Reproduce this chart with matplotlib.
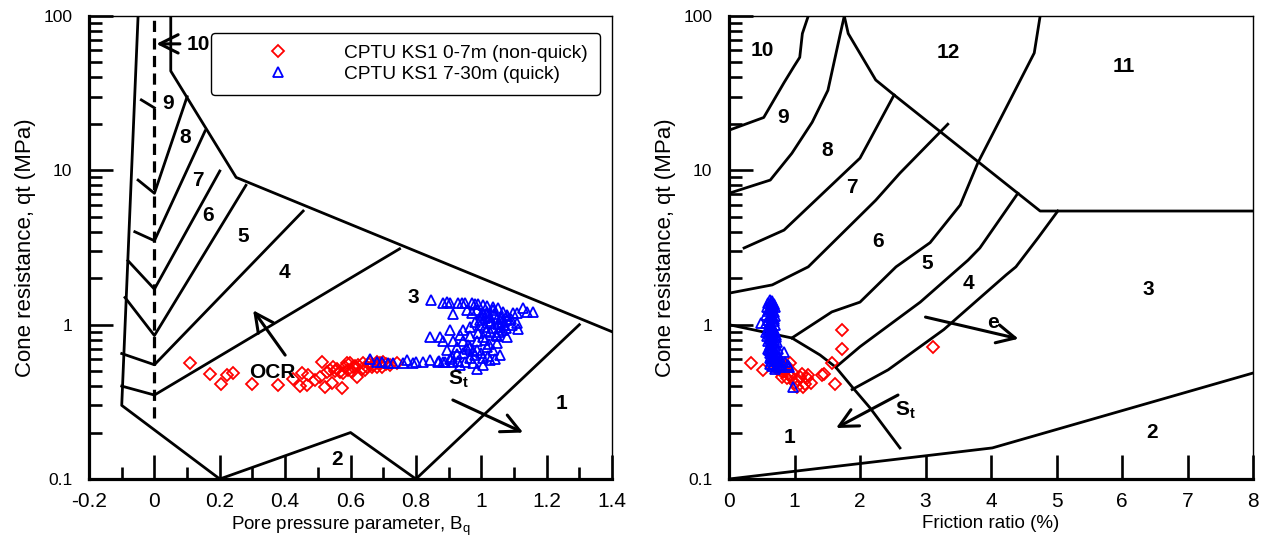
import matplotlib.pyplot as plt
from matplotlib.ticker import LogLocator, NullFormatter

plt.rcParams['font.family'] = ['Liberation Sans', 'DejaVu Sans']
plt.rcParams['mathtext.fontset'] = 'custom'
plt.rcParams['mathtext.rm'] = 'Liberation Sans'
plt.rcParams['mathtext.it'] = 'Liberation Sans:italic'
plt.rcParams['mathtext.bf'] = 'Liberation Sans:bold'

# ---- CPTU KS1 data ----
# Bq chart, 0-7 m (non-quick)
bq_nonquick = [0.109, 0.170, 0.204, 0.222, 0.241, 0.298, 0.378, 0.424, 0.445, 0.451,
               0.470, 0.467, 0.491, 0.507, 0.513, 0.522, 0.543, 0.574, 0.537, 0.546,
               0.559, 0.568, 0.583, 0.592, 0.598, 0.608, 0.620, 0.623, 0.635, 0.638,
               0.650, 0.660, 0.669, 0.681, 0.690, 0.699, 0.742, 0.528, 0.577, 0.604,
               0.644, 0.666, 0.589, 0.681, 0.696, 0.552, 0.615, 0.655, 0.708, 0.720]
qt_bq_nonquick = [0.565, 0.479, 0.412, 0.472, 0.487, 0.412, 0.406, 0.445, 0.401, 0.487,
                  0.472, 0.406, 0.438, 0.458, 0.572, 0.395, 0.419, 0.389, 0.510, 0.535,
                  0.520, 0.495, 0.530, 0.510, 0.565, 0.530, 0.458, 0.548, 0.520, 0.565,
                  0.535, 0.572, 0.548, 0.572, 0.565, 0.572, 0.565, 0.495, 0.487, 0.495,
                  0.510, 0.530, 0.565, 0.535, 0.535, 0.500, 0.540, 0.555, 0.560, 0.550]

# Bq chart, 7-30 m (quick)
bq_quick = [0.846, 0.883, 0.895, 0.904, 0.929, 0.941, 0.950, 0.972, 0.981, 0.990,
            1.005, 1.017, 1.036, 1.051, 1.066, 1.109, 1.158, 0.913, 0.972, 1.005,
            0.843, 0.874, 0.883, 0.904, 0.935, 0.944, 0.965, 0.981, 0.996, 1.011,
            1.027, 1.048, 1.063, 1.079, 1.094, 1.109, 1.112, 1.066, 1.027, 1.005,
            0.987, 0.965, 0.944, 0.926, 0.895, 0.904, 0.987, 1.005, 1.036, 1.042,
            0.987, 0.950, 0.935, 0.913, 0.883, 0.868, 0.843, 0.822, 0.791, 0.773,
            0.761, 0.730, 0.715, 0.696, 0.660, 0.681, 0.944, 0.965, 1.048, 1.079,
            1.097, 1.128, 1.140, 1.017, 1.036, 0.987, 0.957, 1.027, 1.057, 1.048,
            1.017, 0.965, 0.975, 1.005, 1.027, 1.057, 0.913, 0.926, 1.079, 1.063,
            1.000, 1.020, 1.040, 1.060, 1.080, 1.030, 1.050, 1.070, 1.010, 0.995,
            1.015, 1.035, 1.055, 1.075, 1.090, 0.990, 1.010, 1.045, 1.025, 0.975,
            0.960, 1.000, 1.020, 0.980, 0.955, 0.930, 0.910, 0.890, 0.870, 0.800]
qt_bq_quick = [1.44, 1.38, 1.40, 1.38, 1.38, 1.38, 1.38, 1.38, 1.36, 1.36,
               1.34, 1.32, 1.30, 1.28, 1.21, 1.19, 1.21, 1.17, 1.19, 1.19,
               0.83, 0.83, 0.78, 0.93, 0.86, 0.93, 0.97, 1.04, 1.07, 1.10,
               1.12, 1.09, 1.04, 1.07, 1.00, 1.02, 0.94, 0.93, 0.89, 0.83,
               0.78, 0.72, 0.66, 0.65, 0.69, 0.60, 0.69, 0.61, 0.69, 0.60,
               0.52, 0.57, 0.55, 0.57, 0.57, 0.57, 0.59, 0.57, 0.565, 0.59,
               0.565, 0.565, 0.565, 0.572, 0.60, 0.572, 0.78, 0.84, 0.84, 0.83,
               1.19, 1.28, 1.21, 1.21, 1.24, 1.24, 1.24, 1.02, 0.97, 0.76,
               0.72, 0.61, 0.565, 0.548, 0.59, 0.64, 0.78, 0.72, 1.15, 1.12,
               1.15, 1.14, 1.17, 1.10, 1.13, 1.06, 1.01, 0.99, 0.96, 1.00,
               0.91, 0.95, 0.90, 0.95, 1.09, 0.88, 0.80, 0.86, 0.75, 0.68,
               0.74, 0.66, 0.63, 0.64, 0.70, 0.58, 0.62, 0.575, 0.58, 0.57]

# Friction ratio chart, 0-7 m (non-quick)
rf_nonquick = [0.34, 0.52, 1.725, 1.725, 1.57, 1.42, 1.62, 1.115, 1.19, 1.25,
               1.05, 1.01, 1.13, 0.93, 0.885, 0.82, 0.78, 0.73, 0.81, 0.885,
               0.93, 0.977, 1.04, 1.16, 3.11, 1.20, 0.85, 0.90, 0.76, 0.95,
               1.45, 0.80, 0.87, 1.08]
qt_rf_nonquick = [0.565, 0.51, 0.93, 0.70, 0.565, 0.472, 0.41, 0.479, 0.45, 0.419,
                  0.438, 0.419, 0.395, 0.565, 0.53, 0.495, 0.51, 0.52, 0.458, 0.45,
                  0.472, 0.487, 0.395, 0.41, 0.72, 0.472, 0.50, 0.48, 0.54, 0.46,
                  0.478, 0.53, 0.55, 0.46]

# Friction ratio chart, 7-30 m (quick)
rf_quick = [0.62, 0.66, 0.60, 0.68, 0.64, 0.58, 0.70, 0.62, 0.66, 0.60,
            0.68, 0.64, 0.57, 0.70, 0.62, 0.66, 0.60, 0.68, 0.49, 0.63,
            0.57, 0.70, 0.61, 0.66, 0.59, 0.68, 0.63, 0.56, 0.70, 0.61,
            0.66, 0.58, 0.72, 0.63, 0.68, 0.60, 0.73, 0.65, 0.62, 0.70,
            0.66, 0.60, 0.75, 0.64, 0.70, 0.84, 0.62, 0.67, 0.73, 0.64,
            0.70, 0.77, 0.62, 0.67, 0.74, 0.80, 0.64, 0.70, 0.76, 0.85,
            0.63, 0.68, 0.73, 0.80, 0.90, 0.66, 0.72, 0.78, 0.916, 0.70, 0.98,
            0.64, 0.67, 0.61, 0.65, 0.69, 0.63, 0.67, 0.59, 0.65, 0.71,
            0.62, 0.66, 0.69, 0.64, 0.61, 0.67]
qt_rf_quick = [1.44, 1.42, 1.38, 1.36, 1.34, 1.30, 1.30, 1.27, 1.25, 1.22,
               1.20, 1.18, 1.15, 1.14, 1.12, 1.10, 1.08, 1.06, 1.03, 1.04,
               1.02, 1.00, 0.98, 0.96, 0.94, 0.93, 0.91, 0.90, 0.89, 0.87,
               0.85, 0.84, 0.83, 0.81, 0.79, 0.78, 0.77, 0.76, 0.74, 0.73,
               0.71, 0.70, 0.70, 0.68, 0.67, 0.67, 0.66, 0.65, 0.64, 0.63,
               0.62, 0.62, 0.61, 0.60, 0.60, 0.59, 0.58, 0.58, 0.57, 0.57,
               0.56, 0.555, 0.55, 0.55, 0.55, 0.54, 0.535, 0.53, 0.53, 0.52, 0.395,
               1.40, 1.32, 1.26, 1.16, 1.09, 1.01, 0.95, 0.92, 0.88, 0.86,
               0.82, 0.80, 0.75, 0.72, 0.69, 0.62]

# ---- soil behaviour type boundaries (Bq chart) ----
bq_outer = [-0.05, -0.1, 0.2, 0.6, 0.8, 1.3]
qt_outer = [100, 0.3, 0.1, 0.2, 0.1, 1.0]
bq_upper = [0.05, 0.05, 0.25, 1.4]
qt_upper = [100, 44, 9, 0.9]
bq_zero = [0, 0]
qt_zero = [0.25, 100]
bq_zone_lines = [[-0.04, 0.0],
                 [-0.05, 0.0, 0.10],
                 [-0.06, 0.0, 0.155],
                 [-0.081, 0.0, 0.20],
                 [-0.09, 0.0, 0.28],
                 [-0.10, 0.0, 0.455],
                 [-0.10, 0.0, 0.75]]
qt_zone_lines = [[28.6, 25.4],
                 [8.65, 7.1, 30],
                 [4.0, 3.5, 18],
                 [2.6, 1.7, 9.9],
                 [1.5, 0.85, 8.0],
                 [0.65, 0.55, 5.45],
                 [0.40, 0.35, 3.1]]

# ---- soil behaviour type boundaries (friction ratio chart) ----
rf_zone_lines = [[1.21, 1.12, 1.08, 0.99, 0.84, 0.53, 0.0],
                 [1.76, 1.70, 1.51, 1.27, 0.96, 0.63, 0.0],
                 [1.76, 1.82, 2.24, 2.52, 4.75, 8.0],
                 [2.52, 2.12, 2.0, 0.84, 0.23],
                 [3.34, 2.61, 2.24, 1.21, 0.66, 0.0],
                 [4.75, 4.66, 3.80, 3.53, 3.07, 2.55, 2.0, 1.57, 0.96],
                 [4.41, 3.83, 3.65, 2.92, 2.0, 1.63],
                 [5.02, 4.72, 4.38, 4.23, 3.28, 2.43, 1.88],
                 [0.0, 0.96, 1.39, 1.63, 1.88, 2.15, 2.61],
                 [0.0, 4.02, 8.0]]
qt_rf_zone_lines = [[100, 77, 54, 47, 37, 22, 18.2],
                    [100, 77, 33, 20.5, 12.9, 8.65, 7.1],
                    [100, 77, 38.5, 30.8, 5.45, 5.45],
                    [30.8, 14.9, 12.0, 4.1, 3.14],
                    [19.9, 9.6, 6.4, 2.37, 1.81, 1.60],
                    [100, 57.6, 11.2, 5.96, 3.4, 2.37, 1.40, 1.21, 0.82],
                    [7.1, 3.14, 2.62, 1.40, 0.72, 0.53],
                    [5.45, 3.66, 2.37, 2.10, 0.93, 0.51, 0.38],
                    [1.0, 0.82, 0.636, 0.53, 0.395, 0.29, 0.159],
                    [0.1, 0.159, 0.486]]

LW = 2.0
ZONE_FONT = dict(fontsize=15, fontweight='bold', ha='center', va='center')


def style_axes(ax, xlim, xmajor, xminor):
    ax.set_yscale('log')
    ax.set_ylim(0.1, 100)
    ax.set_xlim(*xlim)
    ax.set_yticks([0.1, 1, 10, 100], labels=['0.1', '1', '10', '100'])
    ax.yaxis.set_minor_locator(LogLocator(base=10, subs=range(2, 10)))
    ax.yaxis.set_minor_formatter(NullFormatter())
    ax.set_xticks(xmajor)
    ax.set_xticks(xminor, minor=True)
    ax.tick_params(axis='both', which='major', direction='in', length=17, width=1.9)
    ax.tick_params(axis='both', which='minor', direction='in', length=9, width=1.9)
    ax.tick_params(axis='y', which='both', labelsize=12.5, pad=12, right=False)
    ax.tick_params(axis='x', which='both', labelsize=15, pad=9, top=False)
    for side in ('left', 'bottom'):
        ax.spines[side].set_linewidth(2.3)
    for side in ('top', 'right'):
        ax.spines[side].set_linewidth(1.0)
    ax.set_ylabel('Cone resistance, qt (MPa)', fontsize=16, labelpad=5)


def arrow(ax, tail, tip):
    ax.annotate('', xy=tip, xytext=tail,
                arrowprops=dict(arrowstyle='->,head_length=0.6,head_width=0.3',
                                lw=2.2, color='black', mutation_scale=22,
                                shrinkA=0, shrinkB=0))


fig = plt.figure(figsize=(12.63, 5.41), dpi=100)
ax1 = fig.add_axes([0.0705, 0.1146, 0.4141, 0.8558])
ax2 = fig.add_axes([0.5772, 0.1146, 0.4149, 0.8558])

# Left: qt vs Bq
ax1.plot(bq_outer, qt_outer, color='black', lw=LW)
ax1.plot(bq_upper, qt_upper, color='black', lw=LW)
ax1.plot(bq_zero, qt_zero, color='black', lw=2.3, ls=(0, (3.5, 2)))
for xs, ys in zip(bq_zone_lines, qt_zone_lines):
    ax1.plot(xs, ys, color='black', lw=LW)

h1, = ax1.plot(bq_nonquick, qt_bq_nonquick, ls='none', marker='D', ms=6.2,
               mfc='none', mec='red', mew=1.3, label='CPTU KS1 0-7m (non-quick)')
h2, = ax1.plot(bq_quick, qt_bq_quick, ls='none', marker='^', ms=7.5,
               mfc='none', mec='blue', mew=1.3, label='CPTU KS1 7-30m (quick)')

for txt, x, y in [('10', 0.133, 65), ('9', 0.042, 27), ('8', 0.094, 16.4),
                  ('7', 0.133, 8.65), ('6', 0.164, 5.1), ('5', 0.271, 3.7),
                  ('4', 0.397, 2.19), ('3', 0.791, 1.49), ('2', 0.559, 0.133),
                  ('1', 1.244, 0.31)]:
    ax1.text(x, y, txt, **ZONE_FONT)
ax1.text(0.36, 0.49, 'OCR', fontsize=15, fontweight='bold', ha='center', va='center')
ax1.text(0.93, 0.44, r'$\mathbf{S_t}$', fontsize=15, ha='center', va='center')
arrow(ax1, (0.078, 66), (0.006, 66))
arrow(ax1, (0.40, 0.635), (0.302, 1.24))
arrow(ax1, (0.913, 0.325), (1.128, 0.20))

style_axes(ax1, (-0.2, 1.4), [-0.2, 0, 0.2, 0.4, 0.6, 0.8, 1.0, 1.2, 1.4],
           [-0.1, 0.1, 0.3, 0.5, 0.7, 0.9, 1.1, 1.3])
ax1.set_xticklabels(['-0.2', '0', '0.2', '0.4', '0.6', '0.8', '1', '1.2', '1.4'])
ax1.set_xlabel(r'Pore pressure parameter, B$_\mathrm{q}$', fontsize=13.5, labelpad=3)

leg = ax1.legend(handles=[h1, h2], loc='upper left', bbox_to_anchor=(0.2333, 0.9633),
                 borderaxespad=0, borderpad=0.6, handlelength=5.8, handletextpad=0.55,
                 labelspacing=0.2, fontsize=13.8, fancybox=True, framealpha=1)
leg.get_frame().set_edgecolor('black')
leg.get_frame().set_linewidth(1.0)

# Right: qt vs friction ratio
for xs, ys in zip(rf_zone_lines, qt_rf_zone_lines):
    ax2.plot(xs, ys, color='black', lw=LW)

ax2.plot(rf_nonquick, qt_rf_nonquick, ls='none', marker='D', ms=6.2,
         mfc='none', mec='red', mew=1.3)
ax2.plot(rf_quick, qt_rf_quick, ls='none', marker='^', ms=7.5,
         mfc='none', mec='blue', mew=1.3)

for txt, x, y in [('10', 0.504, 60), ('9', 0.824, 22), ('8', 1.496, 13.5),
                  ('7', 1.878, 7.7), ('6', 2.275, 3.44), ('5', 3.02, 2.5),
                  ('4', 3.66, 1.86), ('3', 6.40, 1.70), ('2', 6.46, 0.20),
                  ('1', 0.916, 0.185), ('12', 3.344, 58), ('11', 6.03, 46.8)]:
    ax2.text(x, y, txt, **ZONE_FONT)
ax2.text(4.03, 1.04, 'e', fontsize=15, fontweight='bold', ha='center', va='center')
ax2.text(2.687, 0.28, r'$\mathbf{S_t}$', fontsize=15, ha='center', va='center')
arrow(ax2, (3.0, 1.12), (4.42, 0.81))
arrow(ax2, (2.58, 0.35), (1.634, 0.214))

style_axes(ax2, (0, 8), list(range(9)), [])
ax2.set_xlabel('Friction ratio (%)', fontsize=13.5, labelpad=3)

fig.savefig('out.png', dpi=100)
